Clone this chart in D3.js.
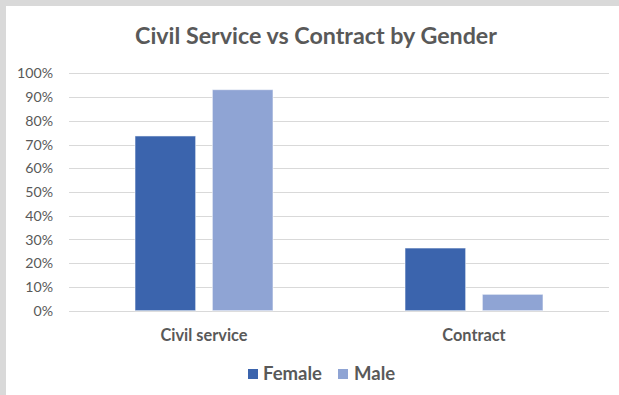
<!DOCTYPE html>
<html>
<head>
<meta charset="utf-8">
<script src="https://cdn.jsdelivr.net/npm/d3@7"></script>
<style>
  html, body { margin: 0; padding: 0; background: #d9d9d9; }
  svg { display: block; }
  text { font-family: Lato, "Open Sans", "Liberation Sans", sans-serif; fill: #595959; }
</style>
</head>
<body>
<svg id="chart" width="619" height="395"></svg>
<script>
const title = "Civil Service vs Contract by Gender";
const categories = ["Civil service", "Contract"];
const seriesNames = ["Female", "Male"];
const femaleValues = [0.736, 0.264];
const maleValues = [0.931, 0.069];
const yTicks = [0, 0.1, 0.2, 0.3, 0.4, 0.5, 0.6, 0.7, 0.8, 0.9, 1.0];
const colors = ["#3B64AD", "#8FA4D4"];

const FONT = 'Lato, "Open Sans", "Liberation Sans", sans-serif';
const svg = d3.select("#chart");
const W = 619, H = 395;

svg.append("rect").attr("x", 6).attr("y", 6).attr("width", W - 6).attr("height", H - 6).attr("fill", "#ffffff");

const plot = { left: 69, right: 609, top: 73.3, bottom: 310.7 };

const y = d3.scaleLinear().domain([0, 1]).range([plot.bottom, plot.top]);
const x0 = d3.scaleBand().domain(categories).range([plot.left, plot.right]).paddingInner(0.489).paddingOuter(0.2445);
const x1 = d3.scaleBand().domain(seriesNames).range([0, x0.bandwidth()]).paddingInner(0.216).paddingOuter(0);
const color = d3.scaleOrdinal().domain(seriesNames).range(colors);

function fit(sel, target) {
  const node = sel.node();
  const fs = parseFloat(sel.attr("font-size"));
  const w = node.getComputedTextLength();
  if (w > 0) sel.attr("font-size", (fs * target / w).toFixed(2));
}

// gridlines
svg.append("g").selectAll("line").data(yTicks).join("line")
  .attr("x1", plot.left).attr("x2", plot.right)
  .attr("y1", d => Math.round(y(d)) + 0.5).attr("y2", d => Math.round(y(d)) + 0.5)
  .attr("stroke", "#d9d9d9").attr("stroke-width", 1);

// y axis labels
const yAxis = d3.axisLeft(y).tickValues(yTicks).tickFormat(d3.format(".0%")).tickSize(0).tickPadding(0);
const yg = svg.append("g").attr("transform", `translate(53,0)`).call(yAxis);
yg.select(".domain").remove();
const yTexts = yg.selectAll("text").attr("font-size", 13).attr("fill", "#595959").style("font-family", FONT);
// scale tick font so "100%" spans ~36px
const topTick = yTexts.filter(d => d === 1);
const w100 = topTick.node().getComputedTextLength();
yTexts.attr("font-size", (13 * 36 / w100).toFixed(2));

// bars
const data = categories.map((c, i) => ({ cat: c, vals: [
  { name: seriesNames[0], v: femaleValues[i] },
  { name: seriesNames[1], v: maleValues[i] }
]}));

const groups = svg.append("g").selectAll("g").data(data).join("g")
  .attr("transform", d => `translate(${x0(d.cat)},0)`);
groups.selectAll("rect").data(d => d.vals).join("rect")
  .attr("x", d => x1(d.name))
  .attr("width", x1.bandwidth())
  .attr("y", d => y(d.v))
  .attr("height", d => y(0) - y(d.v))
  .attr("fill", d => color(d.name))
  .attr("stroke", "rgba(255,255,255,0.55)").attr("stroke-width", 1);

// category labels
const xAxis = d3.axisBottom(x0).tickSize(0).tickPadding(0);
const xg = svg.append("g").attr("transform", `translate(0,${plot.bottom})`).call(xAxis);
xg.select(".domain").remove();
const xTexts = xg.selectAll("text").attr("dy", null).attr("y", 30).attr("font-size", 14).attr("font-weight", "bold")
  .attr("fill", "#595959").style("font-family", FONT);
const civ = xTexts.filter(d => d === categories[0]);
const wc = civ.node().getComputedTextLength();
xTexts.attr("font-size", (14 * 87 / wc).toFixed(2));

// title
const t = svg.append("text").attr("x", 316).attr("y", 43.5).attr("text-anchor", "middle")
  .attr("font-size", 20).attr("font-weight", "bold").text(title);
fit(t, 362);

// legend
const legendItems = [
  { name: seriesNames[0], sx: 248, tx: 263 },
  { name: seriesNames[1], sx: 338, tx: 354 }
];
const lg = svg.append("g");
const legTexts = [];
legendItems.forEach(it => {
  lg.append("rect").attr("x", it.sx).attr("y", 369).attr("width", 10).attr("height", 10).attr("fill", color(it.name));
  legTexts.push(lg.append("text").attr("x", it.tx).attr("y", 380).attr("font-size", 15).attr("font-weight", "bold").text(it.name));
});
fit(legTexts[0], 59);
legTexts[1].attr("font-size", legTexts[0].attr("font-size"));
</script>
</body>
</html>
